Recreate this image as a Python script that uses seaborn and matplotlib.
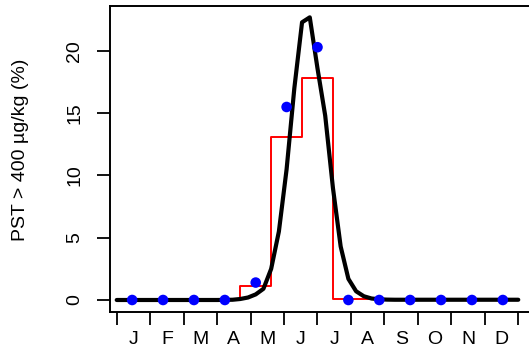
import matplotlib
matplotlib.use('Agg')
import matplotlib.pyplot as plt
import numpy as np
import seaborn as sns

# weeks of the year for the fitted curve
curve_weeks = list(range(0, 53))
curve_pct = [0, 0, 0, 0, 0, 0, 0, 0, 0, 0,
             0, 0, 0, 0, 0.01, 0.02, 0.08, 0.2, 0.45, 0.9,
             2.5, 5.5, 10.5, 17.0, 22.3, 22.7, 18.6, 14.8, 9.0, 4.3,
             1.7, 0.7, 0.3, 0.12, 0.06, 0.03, 0.02, 0.02, 0.02, 0.02,
             0.02, 0.02, 0.02, 0.02, 0.02, 0.02, 0.02, 0.02, 0.02, 0.02,
             0.02, 0.02, 0.02]

# 4-week periods (observed)
period_edges = [0, 4, 8, 12, 16, 20, 24, 28, 32, 36, 40, 44, 48, 52]
period_pct = [0, 0, 0, 0, 1.15, 13.05, 17.85, 0.05, 0.05, 0.05, 0.05, 0.05, 0.05]

dot_weeks = [2, 6, 10, 14, 18, 22, 26, 30, 34, 38, 42, 46, 50]
dot_pct = [0, 0, 0, 0, 1.4, 15.5, 20.3, 0, 0, 0, 0, 0, 0]

month_labels = ['J', 'F', 'M', 'A', 'M', 'J', 'J', 'A', 'S', 'O', 'N', 'D']

sns.set_style('white')
plt.rcParams['font.family'] = ['Liberation Sans', 'DejaVu Sans']
plt.rcParams['font.size'] = 14
for key in ['text.color', 'axes.labelcolor', 'xtick.color', 'ytick.color']:
    plt.rcParams[key] = 'black'

fig = plt.figure(figsize=(5.29, 3.53), dpi=100)
ax = fig.add_axes([110 / 529, 41.3 / 353, 419 / 529, 306.2 / 353])

step_x = period_edges
step_y = period_pct + [period_pct[-1]]
sns.lineplot(x=step_x, y=step_y, ax=ax, color='red', lw=1.4,
             drawstyle='steps-post', estimator=None, sort=False)
sns.lineplot(x=curve_weeks, y=curve_pct, ax=ax, color='black', lw=3,
             estimator=None, sort=False)
sns.scatterplot(x=dot_weeks, y=dot_pct, ax=ax, color='blue', s=58,
                edgecolor='none', zorder=5)

ax.set_xlim(-0.87, 53.39)
ax.set_ylim(-0.94, 23.65)

for side in ['top', 'left', 'bottom']:
    ax.spines[side].set_color('black')
    ax.spines[side].set_linewidth(1.4)
ax.spines['right'].set_visible(False)

month_len = 52 / 12
ax.set_xticks([month_len * k for k in range(13)])
ax.set_xticklabels([])
ax.set_xticks([month_len * (k + 0.5) for k in range(12)], minor=True)
ax.set_xticklabels(month_labels, minor=True)
ax.tick_params(axis='x', which='major', direction='out', length=9,
               width=1.3, color='black', bottom=True)
ax.tick_params(axis='x', which='minor', length=9, width=0, pad=5)

ax.set_yticks([0, 5, 10, 15, 20])
ax.set_yticklabels(['0', '5', '10', '15', '20'], rotation=90, va='center')
ax.tick_params(axis='y', direction='out', length=9.4, width=1.3,
               color='black', left=True, pad=10)

ax.set_xlabel('')
ax.set_ylabel('')
fig.text(21 / 529, 1 - 150 / 353, 'PST > 400 µg/kg (%)', rotation=90,
         ha='center', va='center', fontsize=14)

fig.savefig('out.png', dpi=100)
